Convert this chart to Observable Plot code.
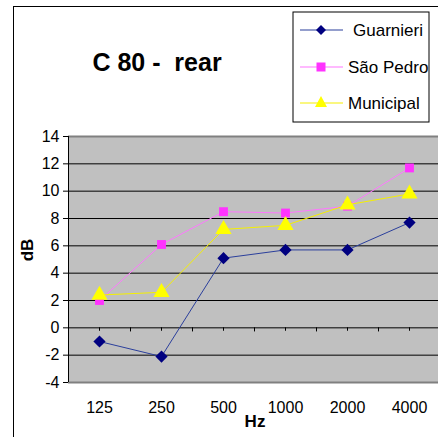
<!DOCTYPE html>
<html><head><meta charset="utf-8">
<script src="https://cdn.jsdelivr.net/npm/d3@7"></script>
<script src="https://cdn.jsdelivr.net/npm/@observablehq/plot@0.6"></script>
<style>
body{margin:0;background:#fff}
#wrap{position:relative;width:438px;height:437px;overflow:hidden;font-family:Arial,"Liberation Sans",sans-serif;color:#000}
.abs{position:absolute}
</style></head><body><div id="wrap"></div>
<script>
const freqs = ["125","250","500","1000","2000","4000"];
const guarnieri = [-1.0, -2.1, 5.1, 5.7, 5.7, 7.7];
const saoPedro  = [2.0, 6.1, 8.5, 8.4, 8.9, 11.7];
const municipal = [2.4, 2.6, 7.2, 7.5, 9.0, 9.8];
const yTicks = [-4,-2,0,2,4,6,8,10,12,14];
const seriesNames = ["Guarnieri","São Pedro","Municipal"];
const seriesColors = ["#000080","#ff33ff","#ffff00"];
const lineColors = ["#2b3f9c","#ff77ff","#f5f000"];
const seriesSymbols = ["diamond2","square","triangle"];
const seriesR = [5.5, 5, 6];
const titleText = "C 80 -  rear";

const allSeries = [guarnieri, saoPedro, municipal];
const data = allSeries.flatMap((vals, i) => vals.map((v, j) => ({series: seriesNames[i], freq: freqs[j], value: v})));

const wrap = document.getElementById("wrap");

// outer chart border
const border = document.createElement("div");
border.className = "abs";
Object.assign(border.style, {left:"13px", top:"6px", width:"600px", height:"600px", border:"1.5px solid #000"});
wrap.appendChild(border);

const marks = [
  Plot.frame({fill:"#c0c0c0", stroke:null}),
  Plot.ruleY(yTicks.filter(t => t > -4 && t < 14), {stroke:"#000", strokeWidth:1}),
  Plot.ruleY([yTicks[0], yTicks[yTicks.length-1]], {stroke:"#808080", strokeWidth:2}),
  Plot.ruleX([freqs[0]], {dx:-31, y1:-4, y2:14, stroke:"#000", strokeWidth:1}),
  Plot.ruleX(freqs, {x:d=>d, y1:0, y2:-0.25, stroke:"#000"}),
  Plot.ruleX(freqs, {x:d=>d, y1:0, y2:-0.3, dx:31, stroke:"#000"})
];
seriesNames.forEach((name, i) => {
  const d = data.filter(r => r.series === name);
  marks.push(Plot.line(d, {x:"freq", y:"value", stroke:lineColors[i], strokeWidth:1}));
  marks.push(Plot.dot(d, {x:"freq", y:"value", symbol:seriesSymbols[i], r:seriesR[i], fill:seriesColors[i], stroke:"none"}));
});
marks.push(Plot.axisY({ticks:yTicks, tickSize:5, tickPadding:4, fontSize:16, label:null, tickFormat:d => String(d)}));
marks.push(Plot.axisX({tickSize:0, tickPadding:19, fontSize:16, label:null}));

const chart = Plot.plot({
  width:438, height:437,
  marginLeft:68, marginRight:-2, marginTop:136, marginBottom:55,
  x:{type:"point", domain:freqs, padding:0.5, label:null},
  y:{domain:[-4,14], label:null},
  style:{fontFamily:'Arial, "Liberation Sans", sans-serif', fontSize:"16px", color:"#000", background:"transparent", overflow:"visible"},
  marks
});
chart.style.position = "absolute";
chart.style.left = "0px";
chart.style.top = "0px";
wrap.appendChild(chart);

// title
const title = document.createElement("div");
title.className = "abs";
title.textContent = titleText;
Object.assign(title.style, {left:"0px", top:"50px", width:"314px", textAlign:"center", fontSize:"25px", fontWeight:"bold", lineHeight:"25px", whiteSpace:"pre"});
wrap.appendChild(title);

// axis titles
const yl = document.createElement("div");
yl.className = "abs";
yl.textContent = "dB";
Object.assign(yl.style, {left:"8px", top:"240px", width:"40px", lineHeight:"20px", textAlign:"center", fontSize:"17px", fontWeight:"bold", transform:"rotate(-90deg)"});
wrap.appendChild(yl);
const xl = document.createElement("div");
xl.className = "abs";
xl.textContent = "Hz";
Object.assign(xl.style, {left:"225px", top:"412px", width:"60px", lineHeight:"20px", textAlign:"center", fontSize:"17px", fontWeight:"bold"});
wrap.appendChild(xl);

// legend
const ns = "http://www.w3.org/2000/svg";
const leg = document.createElementNS(ns, "svg");
leg.setAttribute("width", 138); leg.setAttribute("height", 112);
Object.assign(leg.style, {position:"absolute", left:"292px", top:"11px"});
const rect = document.createElementNS(ns, "rect");
rect.setAttribute("x", 1); rect.setAttribute("y", 1); rect.setAttribute("width", 136); rect.setAttribute("height", 110);
rect.setAttribute("fill", "#fff"); rect.setAttribute("stroke", "#000"); rect.setAttribute("stroke-width", 1);
leg.appendChild(rect);
const ys = [19, 56, 92];
const tx = [61, 56, 56];
seriesNames.forEach((name, i) => {
  const y = ys[i];
  const ln = document.createElementNS(ns, "line");
  ln.setAttribute("x1", 8); ln.setAttribute("x2", 51); ln.setAttribute("y1", y); ln.setAttribute("y2", y);
  ln.setAttribute("stroke", lineColors[i]); ln.setAttribute("stroke-width", 1.2);
  leg.appendChild(ln);
  const cx = 29;
  let m;
  if (i === 0) { m = document.createElementNS(ns, "path"); m.setAttribute("d", `M${cx},${y-5}L${cx+5},${y}L${cx},${y+5}L${cx-5},${y}Z`); }
  else if (i === 1) { m = document.createElementNS(ns, "rect"); m.setAttribute("x", cx-4.5); m.setAttribute("y", y-4.5); m.setAttribute("width", 9); m.setAttribute("height", 9); }
  else { m = document.createElementNS(ns, "path"); m.setAttribute("d", `M${cx},${y-7}L${cx+6},${y+4}L${cx-6},${y+4}Z`); }
  m.setAttribute("fill", seriesColors[i]);
  leg.appendChild(m);
  const t = document.createElementNS(ns, "text");
  t.setAttribute("x", tx[i]); t.setAttribute("y", y); t.setAttribute("dy", "0.36em");
  t.setAttribute("font-size", 17); t.setAttribute("font-family", 'Arial, "Liberation Sans", sans-serif');
  t.textContent = name;
  leg.appendChild(t);
});
wrap.appendChild(leg);
</script></body></html>
